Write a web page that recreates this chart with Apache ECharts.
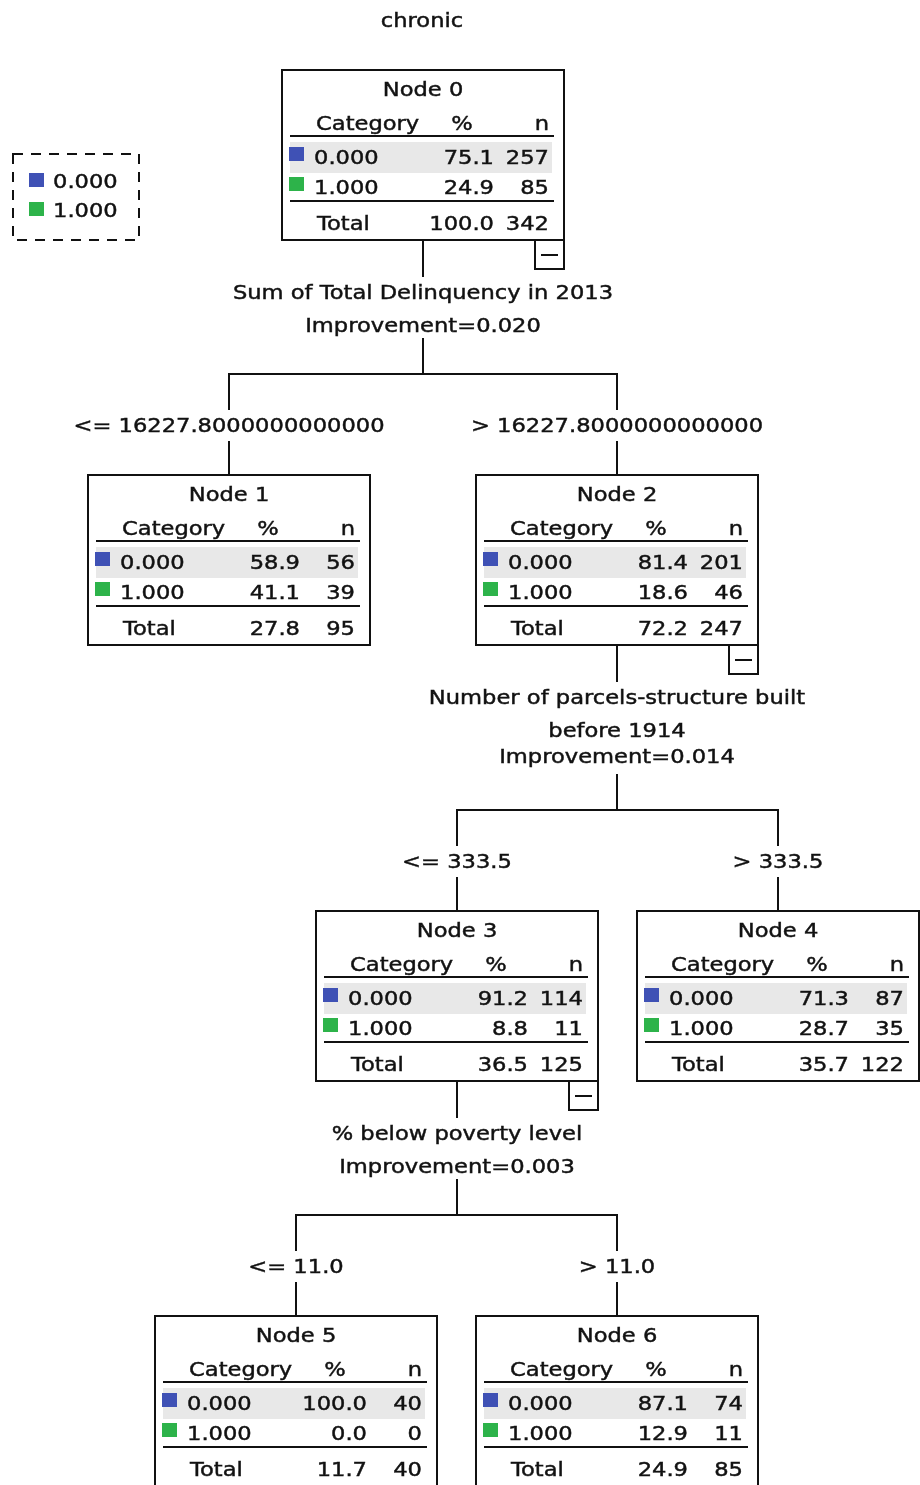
<!DOCTYPE html>
<html>
<head>
<meta charset="utf-8">
<script src="https://cdn.jsdelivr.net/npm/echarts@6/dist/echarts.min.js"></script>
<style>
html,body{margin:0;padding:0;background:#fff;}
#chart{width:920px;height:1485px;}
</style>
</head>
<body>
<div id="chart"></div>
<script>
// ---------------- DATA ----------------
const chartTitle = 'chronic';
const categories = ['0.000', '1.000'];
const nodeIds    = [0, 1, 2, 3, 4, 5, 6];
const nodeParent = [null, 0, 0, 2, 2, 3, 3];
const count0     = [257, 56, 201, 114, 87, 40, 74];
const count1     = [85, 39, 46, 11, 35, 0, 11];
const pct0       = ['75.1', '58.9', '81.4', '91.2', '71.3', '100.0', '87.1'];
const pct1       = ['24.9', '41.1', '18.6', '8.8', '28.7', '0.0', '12.9'];
const totalN     = [342, 95, 247, 125, 122, 40, 85];
const totalPct   = ['100.0', '27.8', '72.2', '36.5', '35.7', '11.7', '24.9'];

const splitNode  = [0, 2, 3];
const splitVar   = [
  ['Sum of Total Delinquency in 2013'],
  ['Number of parcels-structure built', 'before 1914'],
  ['% below poverty level']
];
const splitImprovement = ['0.020', '0.014', '0.003'];
const condLeft   = ['<= 16227.8000000000000', '<= 333.5', '<= 11.0'];
const condRight  = ['> 16227.8000000000000', '> 333.5', '> 11.0'];

// ---------------- LAYOUT (styling / geometry) ----------------
const LAYOUT = { rootX: 423, rootTop: 69, boxW: 284, boxH: 172, spread: [194, 160.5, 160.5] };
const FONT = '20px "DejaVu Sans"';
const SX = 1.13;
const TY = 1.5;
const INK = '#111';
const BLUE = '#3f51b5';
const GREEN = '#2db34a';
const BAND = '#e8e8e8';

// compute node positions (value space == pixel space through hidden axes)
const pos = {};
pos[0] = { x: LAYOUT.rootX, top: LAYOUT.rootTop };
splitNode.forEach(function (p, s) {
  const kids = nodeIds.filter(function (id) { return nodeParent[id] === p; });
  const B = pos[p].top + LAYOUT.boxH;
  const extra = 30 * (splitVar[s].length - 1) + (splitVar[s].length > 1 ? 1 : 0);
  const childTop = B + 233 + extra;
  pos[kids[0]] = { x: pos[p].x - LAYOUT.spread[s], top: childTop };
  pos[kids[1]] = { x: pos[p].x + LAYOUT.spread[s], top: childTop };
});

function txt(x, y, s, align) {
  return { type: 'text', x: x, y: y + TY, scaleX: SX,
    style: { text: s, font: FONT, fill: INK, stroke: INK, lineWidth: 0.45,
      align: align, verticalAlign: 'middle' } };
}
function ln(x1, y1, x2, y2) {
  return { type: 'line', shape: { x1: x1, y1: y1, x2: x2, y2: y2 }, style: { stroke: INK, lineWidth: 2 } };
}

function renderNode(params, api) {
  const id = api.value(2);
  const p = api.coord([api.value(0), api.value(1)]);
  const L = Math.round(p[0] - LAYOUT.boxW / 2), T = Math.round(p[1]);
  const W = LAYOUT.boxW, H = LAYOUT.boxH;
  const ch = [];
  ch.push({ type: 'rect', shape: { x: L + 1, y: T + 1, width: W - 2, height: H - 2 },
    style: { fill: '#fff', stroke: INK, lineWidth: 2 } });
  ch.push(txt(L + 142, T + 20, 'Node ' + nodeIds[id], 'center'));
  ch.push(txt(L + 35, T + 54, 'Category', 'left'));
  ch.push(txt(L + 181, T + 54, '%', 'center'));
  ch.push(txt(L + 268, T + 54, 'n', 'right'));
  ch.push(ln(L + 9, T + 67, L + 273, T + 67));
  ch.push({ type: 'rect', shape: { x: L + 9, y: T + 73, width: 262, height: 31 }, style: { fill: BAND } });
  ch.push({ type: 'rect', shape: { x: L + 8, y: T + 78, width: 15, height: 14 }, style: { fill: BLUE } });
  ch.push({ type: 'rect', shape: { x: L + 8, y: T + 108, width: 15, height: 14 }, style: { fill: GREEN } });
  ch.push(txt(L + 33, T + 88, categories[0], 'left'));
  ch.push(txt(L + 213, T + 88, pct0[id], 'right'));
  ch.push(txt(L + 268, T + 88, String(count0[id]), 'right'));
  ch.push(txt(L + 33, T + 118, categories[1], 'left'));
  ch.push(txt(L + 213, T + 118, pct1[id], 'right'));
  ch.push(txt(L + 268, T + 118, String(count1[id]), 'right'));
  ch.push(ln(L + 9, T + 132, L + 273, T + 132));
  ch.push(txt(L + 36, T + 154, 'Total', 'left'));
  ch.push(txt(L + 213, T + 154, totalPct[id], 'right'));
  ch.push(txt(L + 268, T + 154, String(totalN[id]), 'right'));
  if (splitNode.indexOf(id) >= 0) {
    const B = T + H;
    ch.push({ type: 'rect', shape: { x: L + 254, y: B - 1, width: 29, height: 29 },
      style: { fill: '#fff', stroke: INK, lineWidth: 2 } });
    ch.push(ln(L + 260, B + 14, L + 277, B + 14));
  }
  return { type: 'group', children: ch };
}

function renderSplit(params, api) {
  const s = api.value(2);
  const pnode = splitNode[s];
  const kids = nodeIds.filter(function (id) { return nodeParent[id] === pnode; });
  const pp = api.coord([pos[pnode].x, pos[pnode].top]);
  const cx = Math.round(pp[0]);
  const B = Math.round(pp[1]) + LAYOUT.boxH;
  const c1 = api.coord([pos[kids[0]].x, pos[kids[0]].top]);
  const c2 = api.coord([pos[kids[1]].x, pos[kids[1]].top]);
  const x1 = Math.round(c1[0]), x2 = Math.round(c2[0]), cTop = Math.round(c1[1]);
  const n = splitVar[s].length;
  const ch = [];
  ch.push(ln(cx, B, cx, B + 36));
  splitVar[s].forEach(function (t, i) { ch.push(txt(cx, B + 51 + 33 * i, t, 'center')); });
  ch.push(txt(cx, B + 84 + 26 * (n - 1), 'Improvement=' + splitImprovement[s], 'center'));
  const Hy = cTop - 100;
  ch.push(ln(cx, Hy - 36, cx, Hy));
  ch.push(ln(x1 - 1, Hy, x2 + 1, Hy));
  ch.push(ln(x1, Hy, x1, Hy + 36));
  ch.push(ln(x2, Hy, x2, Hy + 36));
  ch.push(txt(x1, Hy + 51, condLeft[s], 'center'));
  ch.push(txt(x2, Hy + 51, condRight[s], 'center'));
  ch.push(ln(x1, Hy + 67, x1, cTop));
  ch.push(ln(x2, Hy + 67, x2, cTop));
  return { type: 'group', children: ch };
}

const nodeData = nodeIds.map(function (id) { return [pos[id].x, pos[id].top, id]; });
const splitData = splitNode.map(function (p, s) { return [pos[p].x, pos[p].top, s]; });

const chart = echarts.init(document.getElementById('chart'), null, { renderer: 'canvas' });
chart.setOption({
  animation: false,
  backgroundColor: '#fff',
  grid: { left: 0, right: 0, top: 0, bottom: 0 },
  xAxis: { type: 'value', min: 0, max: 920, show: false },
  yAxis: { type: 'value', min: 0, max: 1485, inverse: true, show: false },
  graphic: [
    { type: 'text', x: 422, y: 20 + TY, scaleX: SX, silent: true,
      style: { text: chartTitle, font: FONT, fill: INK, stroke: INK, lineWidth: 0.45, align: 'center', verticalAlign: 'middle' } },
    { type: 'rect', silent: true, shape: { x: 13, y: 154, width: 126, height: 86 },
      style: { fill: 'none', stroke: INK, lineWidth: 2, lineDash: [10, 8] } },
    { type: 'rect', silent: true, shape: { x: 29, y: 173, width: 15, height: 14 }, style: { fill: BLUE } },
    { type: 'rect', silent: true, shape: { x: 29, y: 202, width: 15, height: 14 }, style: { fill: GREEN } },
    { type: 'text', x: 53, y: 181 + TY, scaleX: SX, silent: true,
      style: { text: categories[0], font: FONT, fill: INK, stroke: INK, lineWidth: 0.45, align: 'left', verticalAlign: 'middle' } },
    { type: 'text', x: 53, y: 210 + TY, scaleX: SX, silent: true,
      style: { text: categories[1], font: FONT, fill: INK, stroke: INK, lineWidth: 0.45, align: 'left', verticalAlign: 'middle' } }
  ],
  series: [
    { type: 'custom', name: 'splits', silent: true, renderItem: renderSplit, data: splitData, z: 1 },
    { type: 'custom', name: 'nodes', silent: true, renderItem: renderNode, data: nodeData, z: 2 }
  ]
});
</script>
</body>
</html>
